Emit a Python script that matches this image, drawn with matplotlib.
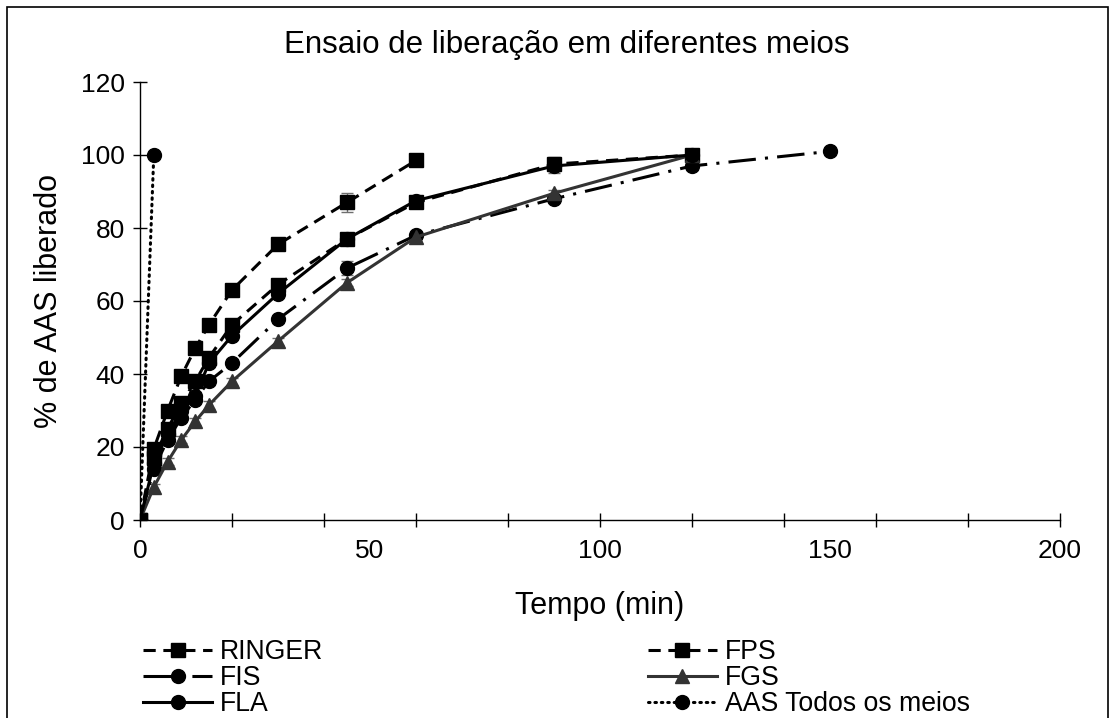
import matplotlib
matplotlib.use("Agg")
import matplotlib.pyplot as plt
from matplotlib.patches import Rectangle

plt.rcParams['font.family'] = ['Liberation Sans', 'DejaVu Sans']

# tempos (min)
tempo = [0, 3, 6, 9, 12, 15, 20, 30, 45, 60, 90, 120, 150]

# % de AAS liberado por meio
ringer = [0, 19.5, 30, 39.5, 47, 53.5, 63, 75.5, 87, 98.5]
ringer_err = [0, 1, 1, 1, 1, 1, 1, 1, 2.5, 1]
fps = [0, 17, 25, 32, 38, 44.5, 53.5, 64.5, 77, 87, 97.5, 100]
fps_err = [0, 1, 1, 1, 1, 1, 1, 1, 1, 1, 2, 1]
fis = [0, 14, 22, 28, 33, 38, 43, 55, 69, 78, 88, 97, 101]
fis_err = [0, 1, 1, 1, 1, 1, 1, 1, 2, 1, 1, 1, 1]
fgs = [0, 9, 16, 22, 27, 31.5, 38, 49, 65, 77.5, 89.5, 100]
fgs_err = [0, 1, 1, 1, 1, 1, 1, 1, 1, 1, 1, 1]
fla = [0, 15.5, 23.5, 30, 34, 43, 50.5, 62, 77, 87.5, 97, 100]
fla_err = [0, 1, 1, 1, 1, 1, 1, 1, 1, 1, 2, 1]
aas_tempo = [0, 3]
aas = [0, 100]

fig = plt.figure(figsize=(11.15, 7.18), dpi=100)
ax = fig.add_axes([140 / 1115, 1 - 520 / 718, 920 / 1115, 438 / 718])

lw = 2.2
ms = 10
cinza = "#6e6e6e"

def serie(x, y, err, estilo, marcador, cor, nome):
    ax.errorbar(x[:len(y)], y, yerr=err, fmt="none", ecolor=cinza,
                elinewidth=1, capsize=4, zorder=2)
    linha, = ax.plot(x[:len(y)], y, linestyle=estilo, marker=marcador,
                     color=cor, lw=lw, ms=ms, label=nome, zorder=3)
    return linha

h_ringer = serie(tempo, ringer, ringer_err, (0, (4, 2.5)), "s", "black", "RINGER")
h_fps = serie(tempo, fps, fps_err, (0, (4, 2.5)), "s", "black", "FPS")
h_fis = serie(tempo, fis, fis_err, (0, (9, 3, 1, 3)), "o", "black", "FIS")
h_fgs = serie(tempo, fgs, fgs_err, "-", "^", "#333333", "FGS")
h_fla = serie(tempo, fla, fla_err, "-", "o", "black", "FLA")
h_aas, = ax.plot(aas_tempo, aas, linestyle=(0, (0.5, 1.6)), marker="o",
                 color="black", lw=lw, ms=ms, dash_capstyle="round",
                 label="AAS Todos os meios", zorder=4)

ax.set_xlim(0, 200)
ax.set_ylim(0, 120)
ax.spines["top"].set_visible(False)
ax.spines["right"].set_visible(False)
ax.spines["left"].set_linewidth(1)
ax.spines["bottom"].set_linewidth(1)

ax.set_yticks(range(0, 121, 20))
ax.tick_params(axis="y", direction="inout", length=10, width=1, labelsize=19, pad=6)
# ticks do eixo x a cada 20, rótulos a cada 50
ax.xaxis.remove_overlapping_locs = False
ax.set_xticks(range(0, 201, 20))
ax.set_xticklabels([])
ax.tick_params(axis="x", which="major", direction="inout", length=10, width=1)
ax.set_xticks(range(0, 201, 50), minor=True)
ax.set_xticklabels([str(v) for v in range(0, 201, 50)], minor=True)
ax.tick_params(axis="x", which="minor", length=0, labelsize=19, pad=14)

ax.set_xlabel("Tempo (min)", fontsize=22, labelpad=20)
ax.set_ylabel("% de AAS liberado", fontsize=22, labelpad=12)
fig.text(567 / 1115, 1 - 45 / 718, "Ensaio de liberação em diferentes meios",
         fontsize=22.5, ha="center", va="center")

handles = [h_ringer, h_fis, h_fla, h_fps, h_fgs, h_aas]
fig.legend(handles=handles, labels=[h.get_label() for h in handles],
           ncol=2, mode="expand", frameon=False, fontsize=19.2,
           handlelength=2.6, handletextpad=0.3, labelspacing=0.0,
           borderpad=0, borderaxespad=0,
           bbox_to_anchor=(143 / 1115, 0, (970 - 143) / 1115, 1 - 639 / 718),
           loc="upper left")

fig.add_artist(Rectangle((7 / 1115, -0.02), 1101 / 1115, 1.02 - 7 / 718,
                         transform=fig.transFigure, fill=False,
                         edgecolor="black", lw=1.2))

fig.savefig("out.png", dpi=100)
